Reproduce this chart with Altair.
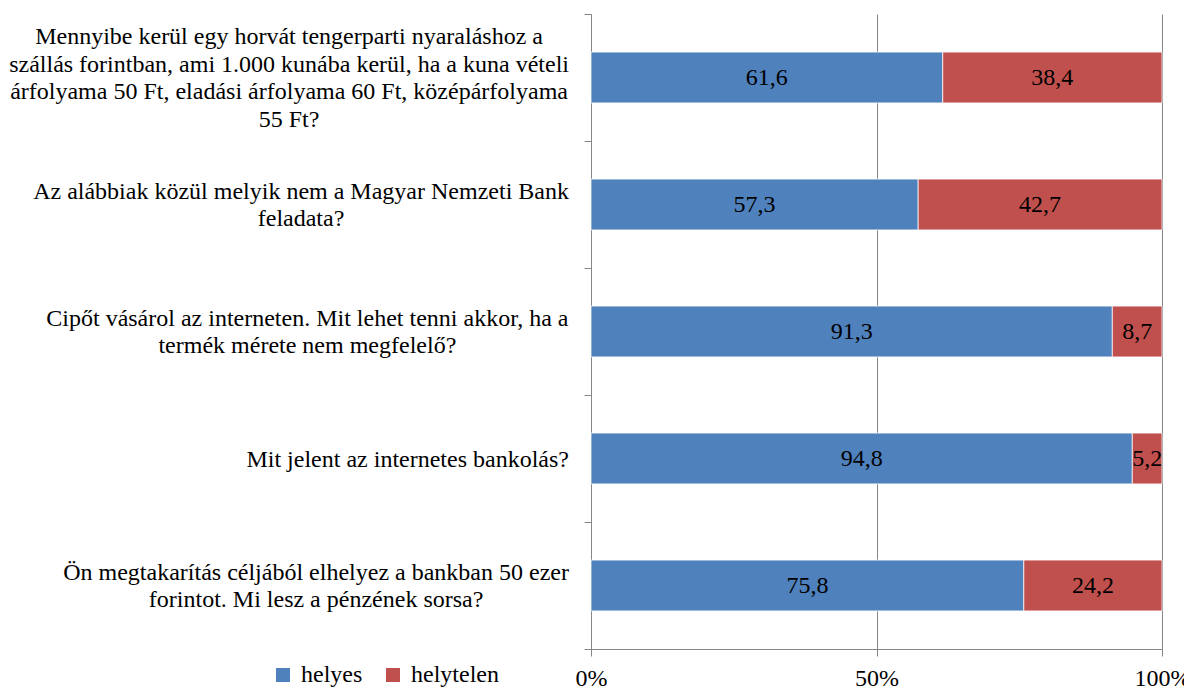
import altair as alt
import pandas as pd

# ---- data ----
questions = [
    "Mennyibe kerül egy horvát tengerparti nyaraláshoz a\nszállás forintban, ami 1.000 kunába kerül, ha a kuna vételi\nárfolyama 50 Ft, eladási árfolyama 60 Ft, középárfolyama\n55 Ft?",
    "Az alábbiak közül melyik nem a Magyar Nemzeti Bank\nfeladata?",
    "Cipőt vásárol az interneten. Mit lehet tenni akkor, ha a\ntermék mérete nem megfelelő?",
    "Mit jelent az internetes bankolás?",
    "Ön megtakarítás céljából elhelyez a bankban 50 ezer\nforintot. Mi lesz a pénzének sorsa?",
]
helyes = [61.6, 57.3, 91.3, 94.8, 75.8]
helytelen = [38.4, 42.7, 8.7, 5.2, 24.2]
categories = ["helyes", "helytelen"]
colors = ["#4F81BD", "#C0504D"]
x_ticks = [0, 50, 100]

FONT = "'Times New Roman', 'Liberation Serif', serif"
FS = 24
LH = 27.8
GRAY = "#868686"

# Times/Liberation Serif advance widths (units per 1000 em) to centre wrapped lines
ADV = {' ': 250, ',': 250, '.': 250, '?': 444,
       'a': 444, 'b': 500, 'c': 444, 'd': 500, 'e': 444, 'f': 333, 'g': 500, 'h': 500,
       'i': 278, 'j': 278, 'k': 500, 'l': 278, 'm': 778, 'n': 500, 'o': 500, 'p': 500,
       'q': 500, 'r': 333, 's': 389, 't': 278, 'u': 500, 'v': 500, 'w': 722, 'x': 500,
       'y': 500, 'z': 444, 'á': 444, 'é': 444, 'í': 278, 'ó': 500, 'ö': 500, 'ő': 500,
       'ú': 500, 'ü': 500, 'ű': 500, 'A': 722, 'B': 667, 'C': 667, 'F': 556, 'M': 889,
       'N': 722, 'Ö': 722}


def text_width(s):
    return sum(ADV.get(c, 500) for c in s) * FS / 1000.0


rows = []
for q, h, ht in zip(questions, helyes, helytelen):
    rows.append({"kerdes": q, "valasz": categories[0], "ertek": h, "sorrend": 0})
    rows.append({"kerdes": q, "valasz": categories[1], "ertek": ht, "sorrend": 1})
df = pd.DataFrame(rows)

label_df = pd.DataFrame({
    "kerdes": questions,
    "sorok": [len(q.split("\n")) for q in questions],
    "cx": [-(22 + max(text_width(l) for l in q.split("\n")) / 2) for q in questions],
})

y_enc = alt.Y(
    "kerdes:N", sort=questions,
    scale=alt.Scale(paddingInner=0, paddingOuter=0),
    axis=alt.Axis(labels=False, title=None, tickBand="extent", tickSize=7,
                  tickColor=GRAY, domainColor=GRAY, grid=False),
)

base = alt.Chart(df).transform_stack(
    stack="ertek", groupby=["kerdes"], as_=["x0", "x1"],
    sort=[alt.SortField("sorrend", order="ascending")],
).transform_calculate(
    mid="(datum.x0 + datum.x1) / 2",
    felirat="replace(format(datum.ertek, '.1f'), '.', ',')",
)

bars = base.mark_bar(stroke="white", strokeWidth=0.75,
                     height=alt.RelativeBandSize(0.4)).encode(
    y=y_enc,
    x=alt.X("x0:Q", scale=alt.Scale(domain=[0, 100], nice=False),
            axis=alt.Axis(values=x_ticks, labelExpr="datum.value + '%'", title=None,
                          grid=True, gridColor=GRAY, tickSize=7, tickColor=GRAY,
                          domainColor=GRAY, labelPadding=10, labelFlush=False,
                          labelOverlap=False, labelFont=FONT, labelFontSize=FS,
                          labelColor="black")),
    x2="x1:Q",
    color=alt.Color("valasz:N", scale=alt.Scale(domain=categories, range=colors),
                    legend=alt.Legend(orient="none", legendX=-320, legendY=649,
                                      direction="horizontal", title=None,
                                      symbolType="square", symbolSize=196,
                                      symbolStrokeWidth=0, labelOffset=6,
                                      columnPadding=18, labelFont=FONT,
                                      labelFontSize=FS, labelColor="black")),
)

values = base.mark_text(font=FONT, fontSize=FS, color="black").encode(
    y=alt.Y("kerdes:N", sort=questions),
    x=alt.X("mid:Q"),
    text="felirat:N",
)

label_layers = []
for n in sorted(set(label_df["sorok"])):
    label_layers.append(
        alt.Chart(label_df).transform_filter(alt.datum.sorok == n).mark_text(
            font=FONT, fontSize=FS, color="black", align="center", baseline="middle",
            lineBreak="\n", lineHeight=LH, dy=-(n - 1) * LH / 2 + 1,
        ).encode(
            y=alt.Y("kerdes:N", sort=questions),
            x=alt.X("cx:Q", scale=None),
            text="kerdes:N",
        )
    )

chart = alt.layer(bars, values, *label_layers).properties(
    width=571, height=635,
    autosize=alt.AutoSizeParams(type="none"),
    padding={"left": 583, "top": 6, "right": 22, "bottom": 40},
).configure(font=FONT).configure_view(stroke=None)

chart.save("out.html", embed_options={"renderer": "svg", "actions": False})
